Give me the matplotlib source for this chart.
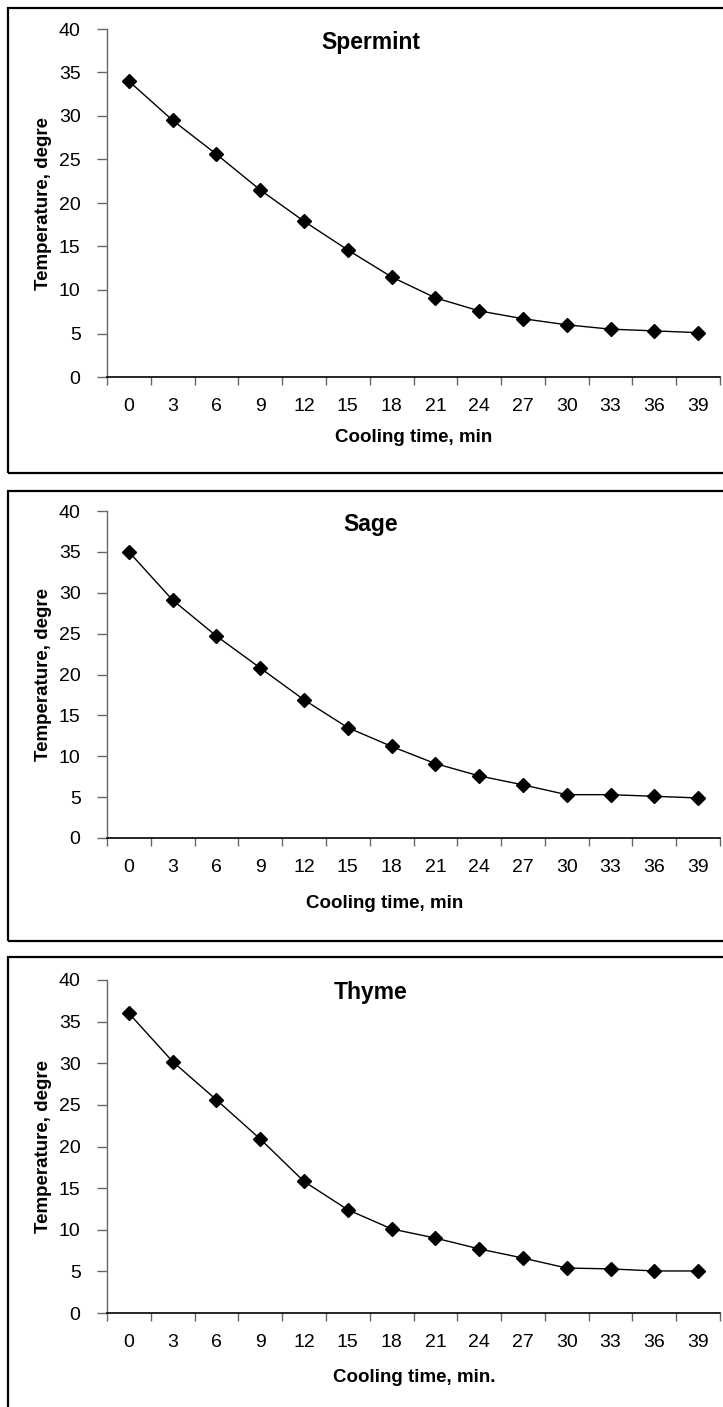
import matplotlib
matplotlib.use("Agg")
import matplotlib.pyplot as plt
from matplotlib.patches import Rectangle

plt.rcParams['font.family'] = ['Liberation Sans', 'DejaVu Sans']

cooling_time = [0, 3, 6, 9, 12, 15, 18, 21, 24, 27, 30, 33, 36, 39]
spermint = [34.0, 29.5, 25.6, 21.5, 17.9, 14.6, 11.5, 9.1, 7.6, 6.7, 6.0, 5.5, 5.3, 5.1]
sage = [35.0, 29.1, 24.7, 20.8, 16.9, 13.5, 11.2, 9.1, 7.6, 6.5, 5.3, 5.3, 5.1, 4.9]
thyme = [36.0, 30.2, 25.6, 20.9, 15.8, 12.4, 10.1, 9.0, 7.7, 6.6, 5.4, 5.3, 5.05, 5.05]

titles = ["Spermint", "Sage", "Thyme"]
xlabels = ["Cooling time, min", "Cooling time, min", "Cooling time, min."]
ylabel = "Temperature, degre"
yticks = [0, 5, 10, 15, 20, 25, 30, 35, 40]

W, H = 723, 1407
fig = plt.figure(figsize=(W / 100, H / 100), dpi=100)

# pixel layout: (box top, box bottom, axes top, axes bottom, xlabel x, xlabel y)
panels = [
    (8, 473, 29, 377, 414, 438),
    (491, 941, 511, 838, 385, 903),
    (957, 1420, 980, 1313, 414, 1377),
]
series = [spermint, sage, thyme]
ax_left, ax_right = 107, 720

for (btop, bbot, atop, abot, xlx, xly), vals, title, xl in zip(panels, series, titles, xlabels):
    fig.patches.append(Rectangle((8 / W, 1 - bbot / H), (730 - 8) / W, (bbot - btop) / H,
                                 transform=fig.transFigure, fill=False,
                                 edgecolor="black", linewidth=1.6))
    ax = fig.add_axes([ax_left / W, 1 - abot / H, (ax_right - ax_left) / W, (abot - atop) / H])
    n = len(cooling_time)
    x = list(range(n))
    ax.plot(x, vals, color="black", linewidth=1.0, marker="D", markersize=7,
            markerfacecolor="black", markeredgecolor="black")
    ax.set_xlim(-0.5, n - 0.5)
    ax.set_ylim(0, 40)

    ax.set_xticks(x)
    ax.set_xticklabels([str(t) for t in cooling_time])
    ax.set_xticks([i - 0.5 for i in range(n + 1)], minor=True)
    ax.tick_params(axis="x", which="major", length=0, pad=15, labelsize=14)
    ax.tick_params(axis="x", which="minor", length=6, width=1, color="#666666", direction="out")

    ax.set_yticks(yticks)
    ax.tick_params(axis="y", length=7, width=1, color="#666666", direction="out", pad=12, labelsize=14)

    for s in ["top", "right"]:
        ax.spines[s].set_visible(False)
    ax.spines["left"].set_color("#666666")
    ax.spines["bottom"].set_color("black")
    ax.spines["left"].set_linewidth(1)
    ax.spines["bottom"].set_linewidth(1.2)

    ax.text((371 - ax_left) / (ax_right - ax_left), 1 - 13 / (abot - atop), title,
            transform=ax.transAxes, ha="center", va="center", fontsize=16.5, fontweight="bold")
    ax.set_ylabel(ylabel, fontsize=13.5, fontweight="bold", va="center")
    ax.yaxis.set_label_coords((44 - ax_left) / (ax_right - ax_left), 0.5)
    ax.set_xlabel(xl, fontsize=13.5, fontweight="bold", va="center")
    ax.xaxis.set_label_coords((xlx - ax_left) / (ax_right - ax_left), -(xly - abot) / (abot - atop))

fig.savefig("out.png", dpi=100)
